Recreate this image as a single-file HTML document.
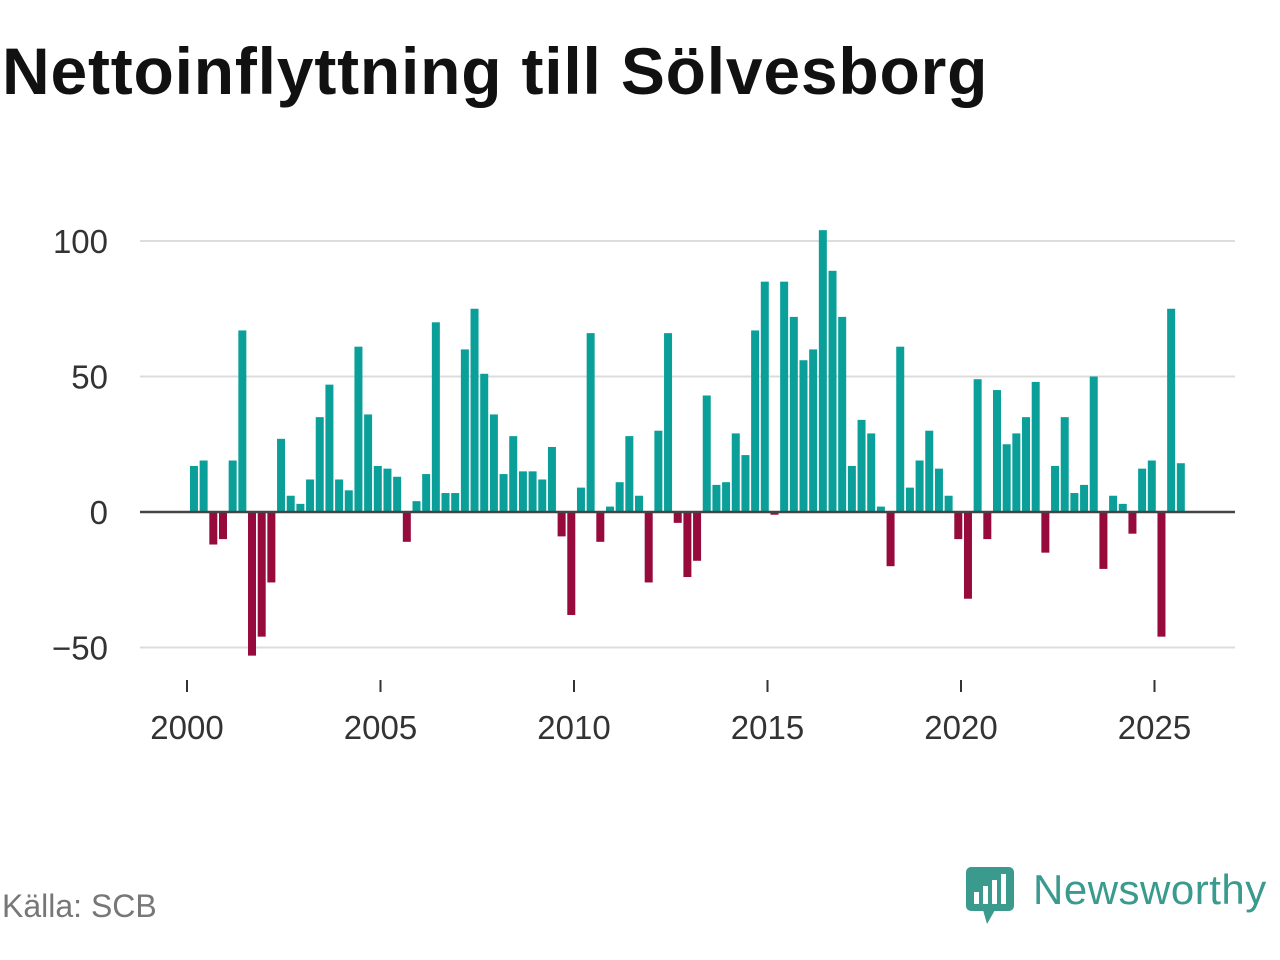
<!DOCTYPE html>
<html><head><meta charset="utf-8"><style>
body{margin:0;width:1280px;height:960px;background:#fff;font-family:"Liberation Sans",sans-serif;overflow:hidden}
h1{position:absolute;left:2px;top:33px;margin:0;font-size:66px;font-weight:bold;color:#111;letter-spacing:0.8px;white-space:nowrap}
.src{position:absolute;left:2px;top:888px;font-size:32px;color:#777}
.brand{position:absolute;left:1033px;top:866px;font-size:42px;color:#3a9a8e;letter-spacing:0.5px}
</style></head><body>
<h1>Nettoinflyttning till Sölvesborg</h1>
<svg id="c" width="1280" height="960" style="position:absolute;left:0;top:0"></svg>
<div class="src">Källa: SCB</div>
<svg style="position:absolute;left:965px;top:866px" width="50" height="60">
<rect x="1" y="1" width="48" height="44" rx="5" fill="#3a9a8e"/><polygon points="18,44 30,44 22,58" fill="#3a9a8e"/>
<rect x="9" y="26" width="5" height="12" fill="#fff"/><rect x="18" y="20" width="5" height="18" fill="#fff"/><rect x="27" y="14" width="5" height="24" fill="#fff"/><rect x="36" y="8" width="5" height="30" fill="#fff"/>
</svg>
<div class="brand">Newsworthy</div>
<script>
const years=[2000,2005,2010,2015,2020,2025];
const yTicks=[100,50,0,-50];
const yTickLabels=["100","50","0","\u221250"];
const startYear=2000;
const values=[17,19,-12,-10, 19,67,-53,-46, -26,27,6,3, 12,35,47,12, 8,61,36,17, 16,13,-11,4,
14,70,7,7, 60,75,51,36, 14,28,15,15, 12,24,-9,-38, 9,66,-11,2, 11,28,6,-26,
30,66,-4,-24, -18,43,10,11, 29,21,67,85, -1,85,72,56, 60,104,89,72, 17,34,29,2,
-20,61,9,19, 30,16,6,-10, -32,49,-10,45, 25,29,35,48, -15,17,35,7, 10,50,-21,6,
3,-8,16,19, -46,75,18];
const NS="http://www.w3.org/2000/svg",s=document.getElementById('c');
const y=v=>512-v*2.71;
const x=t=>187+(t-2000)*38.7;
function mk(t,a,txt){const e=document.createElementNS(NS,t);for(const k in a)e.setAttribute(k,a[k]);if(txt!=null)e.textContent=txt;s.appendChild(e);return e;}
yTicks.forEach((v,i)=>{
  if(v!==0){const g=mk('line',{x1:140,x2:1235,y1:y(v),y2:y(v),stroke:'#dcdcdc','stroke-width':2});
  
  }
  const t=mk('text',{x:108,y:y(v)+12,'text-anchor':'end','font-size':33,fill:'#333','font-family':'Liberation Sans'},yTickLabels[i]);
  
  
});
values.forEach((v,i)=>{
  const t=startYear+i*0.25+0.18;
  const r=mk('rect',{x:x(t)-4,y:Math.min(y(v),y(0)),width:8,height:Math.abs(y(v)-y(0)),fill:v>=0?'#0aa099':'#960a3c'});
  
  
});
const z=mk('line',{x1:140,x2:1235,y1:y(0),y2:y(0),stroke:'#444','stroke-width':2.5});


years.forEach(yr=>{
  const l=mk('line',{x1:x(yr),x2:x(yr),y1:680,y2:692,stroke:'#333','stroke-width':2});
  
  
  const t=mk('text',{x:x(yr),y:739,'text-anchor':'middle','font-size':33,fill:'#333','font-family':'Liberation Sans'},String(yr));
  
  
});
</script>
</body></html>
